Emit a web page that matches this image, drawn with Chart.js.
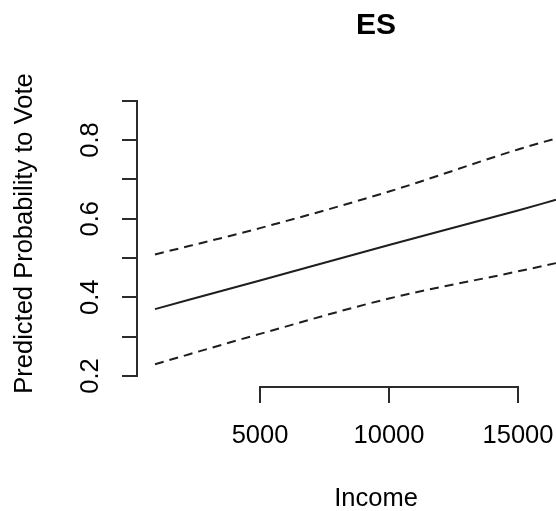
<!DOCTYPE html>
<html>
<head>
<meta charset="utf-8">
<script src="https://cdn.jsdelivr.net/npm/chart.js@4.4.1/dist/chart.umd.min.js"></script>
<style>
  html, body { margin: 0; padding: 0; overflow: hidden; background: #ffffff; width: 556px; height: 511px; }
  #wrap { width: 615px; height: 511px; }
</style>
</head>
<body>
<div id="wrap"><canvas id="chart" width="615" height="511"></canvas></div>
<script>
// ---- data ----
const chartTitle = 'ES';
const xAxisTitle = 'Income';
const yAxisTitle = 'Predicted Probability to Vote';

const income      = [930, 5000, 10000, 15000, 16470];
const predicted   = [0.370, 0.443, 0.533, 0.621, 0.648];
const upperBound  = [0.509, 0.576, 0.669, 0.776, 0.804];
const lowerBound  = [0.230, 0.307, 0.397, 0.466, 0.487];

const xTickValues = [5000, 10000, 15000];
const xTickLabels = ['5000', '10000', '15000'];
const yTickValues = [0.2, 0.3, 0.4, 0.5, 0.6, 0.7, 0.8, 0.9];
const yTickLabels = ['0.2', '', '0.4', '', '0.6', '', '0.8', ''];

// ---- styling ----
const FONT = '"Liberation Sans", Arial, Helvetica, sans-serif';
const INK = '#1e1e1e';
const AXIS = '#2b2b2b';

Chart.defaults.font.family = FONT;
Chart.defaults.color = '#000';

const toPoints = (xs, ys) => xs.map((v, i) => ({ x: v, y: ys[i] }));

const axisLines = {
  id: 'axisLines',
  afterDraw(chart) {
    const { ctx, chartArea, scales } = chart;
    const xs = scales.x, ys = scales.y;
    ctx.save();
    ctx.strokeStyle = AXIS;
    ctx.lineWidth = 2;
    ctx.lineCap = 'square';
    ctx.beginPath();
    const xa = xs.getPixelForValue(xTickValues[0]);
    const xb = xs.getPixelForValue(xTickValues[xTickValues.length - 1]);
    const yb = Math.round(chartArea.bottom);
    ctx.moveTo(Math.round(xa), yb);
    ctx.lineTo(Math.round(xb), yb);
    const ya = ys.getPixelForValue(yTickValues[0]);
    const yc = ys.getPixelForValue(yTickValues[yTickValues.length - 1]);
    const xl = Math.round(chartArea.left);
    ctx.moveTo(xl, Math.round(ya));
    ctx.lineTo(xl, Math.round(yc));
    ctx.stroke();
    ctx.restore();
  }
};

const lineStyle = (dash) => ({
  borderColor: INK,
  borderWidth: 2,
  borderDash: dash,
  pointRadius: 0,
  pointHoverRadius: 0,
  fill: false,
  cubicInterpolationMode: 'monotone'
});

new Chart(document.getElementById('chart'), {
  type: 'line',
  data: {
    datasets: [
      Object.assign({ label: 'upper', data: toPoints(income, upperBound) }, lineStyle([9, 6])),
      Object.assign({ label: 'predicted', data: toPoints(income, predicted) }, lineStyle([])),
      Object.assign({ label: 'lower', data: toPoints(income, lowerBound) }, lineStyle([9, 6]))
    ]
  },
  options: {
    responsive: false,
    animation: false,
    events: [],
    layout: { padding: 0 },
    plugins: {
      legend: { display: false },
      tooltip: { enabled: false },
      title: {
        display: true,
        text: chartTitle,
        fullSize: false,
        color: '#000',
        font: { family: FONT, size: 30, weight: 'bold', lineHeight: 1.2 },
        padding: { top: 8, bottom: 36 }
      }
    },
    scales: {
      x: {
        type: 'linear',
        position: 'bottom',
        min: 232.6,
        max: 18759.7,
        afterBuildTicks: (s) => { s.ticks = xTickValues.map(v => ({ value: v })); },
        afterFit: (s) => { s.height = 124; },
        grid: { display: true, drawOnChartArea: false, drawTicks: true, tickLength: 16, color: AXIS, lineWidth: 2 },
        border: { display: false },
        ticks: {
          autoSkip: false, maxRotation: 0, minRotation: 0,
          padding: 17.5,
          color: '#000',
          font: { family: FONT, size: 25.5, lineHeight: 1.2 },
          callback: (v, i) => xTickLabels[i]
        },
        title: {
          display: true, text: xAxisTitle, color: '#000',
          font: { family: FONT, size: 25.5, lineHeight: 1.0 },
          padding: { top: 0, bottom: -1 }
        }
      },
      y: {
        type: 'linear',
        position: 'left',
        min: 0.172,
        max: 0.9526,
        afterBuildTicks: (s) => { s.ticks = yTickValues.map(v => ({ value: v })); },
        afterFit: (s) => { s.width = 137; },
        grid: { display: true, drawOnChartArea: false, drawTicks: true, tickLength: 15, color: AXIS, lineWidth: 2 },
        border: { display: false },
        ticks: {
          autoSkip: false, minRotation: 90, maxRotation: 90,
          crossAlign: 'center',
          padding: 13.6,
          color: '#000',
          font: { family: FONT, size: 25.5, lineHeight: 1.2 },
          callback: (v, i) => yTickLabels[i]
        },
        title: {
          display: true, text: yAxisTitle, color: '#000',
          font: { family: FONT, size: 25.5, lineHeight: 1.2 },
          padding: { top: 9.5, bottom: 0 }
        }
      }
    }
  },
  plugins: [axisLines]
});
</script>
</body>
</html>
